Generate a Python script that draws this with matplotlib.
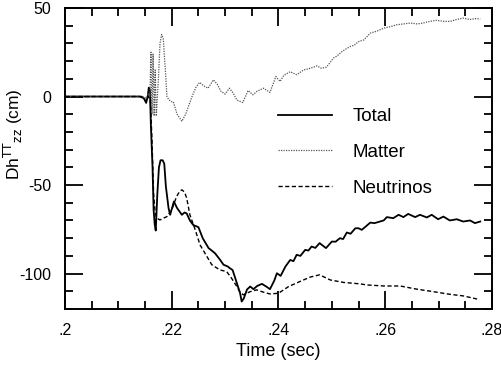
import numpy as np
import matplotlib
matplotlib.use('Agg')
import matplotlib.pyplot as plt
from matplotlib.ticker import MultipleLocator, FixedFormatter, FixedLocator

plt.rcParams['font.family'] = ['Liberation Sans', 'DejaVu Sans']

# data (time in sec, Dh in cm)
t_total = [.200, .2140, .2148, .2152, .2155, .2157, .2159, .2161, .2164, .2166, .2168, .2170,
           .2173, .2176, .2179, .2183, .2186, .2189, .2194, .2197, .2204, .2210, .2219, .2224,
           .2228, .2234, .2240, .2250, .2258, .2269, .2275, .2281, .2290, .2297, .2305, .2309,
           .2314, .2319, .2328, .2331, .2335, .2341, .2347, .2353, .2360, .2369, .2378, .2384,
           .2392, .2397, .2404, .2413, .2422, .2428, .2434, .2441, .2450, .2456, .2462, .2469,
           .2477, .2489, .2500, .2507, .2515, .2521, .2528, .2535, .2544, .2550, .2556, .2565,
           .2572, .2580, .2590, .2597, .2603, .2615, .2625, .2634, .2643, .2656, .2665, .2678,
           .2687, .2699, .2709, .2721, .2734, .2746, .2759, .2768, .2778]
total = [0, 0, -1, -3.6, 0, 5, 4, -17, -40, -64, -72, -75.7,
         -55, -40, -36, -36, -38, -50.8, -63, -66.8, -59.3, -63, -66.8, -65.5,
         -66, -70, -72.5, -73.8, -80, -85.6, -87, -88.5, -92, -95, -96, -97,
         -98, -102.6, -111, -115.8, -114, -109, -107.3, -108.8, -107, -105.8, -107.5, -108.8,
         -104, -99.8, -101.3, -96, -92.3, -93, -89.4, -90, -86.6, -87, -84.7, -85.5,
         -82.8, -85.6, -81.9, -82, -80, -80.5, -76.8, -77.5, -74.4, -74.4, -75.3, -73,
         -71.2, -71.5, -70.6, -70, -68.1, -68.7, -66.8, -68.1, -66.3, -68.1, -66.8, -68.3,
         -66.8, -69.3, -67.8, -70, -69.3, -70.6, -70, -71.5, -70.6]

t_matter = [.200, .2145, .2152, .2157, .2159, .2161, .2163, .2165, .2167, .2169, .2171, .2175,
            .2178, .2181, .2184, .2188, .2191, .2195, .2198, .2200, .2203, .2210, .2219, .2226,
            .2232, .2238, .2245, .2252, .2260, .2268, .2273, .2278, .2285, .2292, .2300, .2308,
            .2315, .2322, .2333, .2343, .2352, .2360, .2372, .2384, .2395, .2403, .2410, .2422,
            .2434, .2447, .2460, .2472, .2480, .2490, .2503, .2510, .2519, .2527, .2534, .2542,
            .2550, .2560, .2572, .2585, .2597, .2610, .2621, .2634, .2647, .2660, .2671, .2684,
            .2696, .2708, .2721, .2734, .2746, .2758, .2770, .2778]
matter = [0, 0, -1, 2, 0, 25, -10, 24, -11, 15, -11, 10,
          30, 35, 33, 15, 0, -2, -2.5, -3, -3, -10, -14, -10,
          -5, 0, 5, 8, 6, 4.7, 7, 9.4, 7, 3, 1.4, 4.7,
          2, -2, -3.4, 3.4, 1, 3, 4.7, 2.3, 11.3, 8.5, 12, 14,
          12.3, 15, 16, 17.3, 16, 16.6, 21.7, 23, 25.4, 27, 28.2, 29,
          31, 32, 35.8, 37, 38.6, 39.5, 40.5, 41, 41.5, 41, 41.5, 42.5,
          43, 42.5, 42.4, 43.5, 44.3, 43.5, 44, 43.9]

t_nu = [.200, .2145, .2152, .2156, .2160, .2163, .2166, .2169, .2172, .2178, .2186, .2191,
        .2200, .2209, .2215, .2219, .2224, .2228, .2234, .2244, .2253, .2266, .2275, .2290,
        .2303, .2312, .2322, .2327, .2334, .2347, .2359, .2372, .2384, .2400, .2419, .2440,
        .2459, .2477, .2497, .2522, .2553, .2565, .2597, .2628, .2659, .2690, .2721, .2746, .2774]
neutrinos = [0, 0, -3, 0, -2, -25, -55, -66, -68.7, -69.7, -68.5, -67.8,
             -64, -56.5, -53.5, -52.7, -54, -57.4, -66.8, -75.3, -83.8, -90.4, -95, -97.9,
             -98.9, -102.6, -107.3, -110, -112, -110.2, -109.2, -110.5, -111.5, -111.1, -107.3, -104.5,
             -102, -100.7, -103.6, -105, -105.8, -106.4, -107, -107, -108.8, -110.2, -111.7, -112.6, -114.5]

xticks = [.2, .22, .24, .26, .28]
xlabels = ['.2', '.22', '.24', '.26', '.28']
yticks = [-100, -50, 0, 50]
ylabels = ['-100', '-50', '0', '50']

fig = plt.figure(figsize=(5.02, 3.69), dpi=100)
ax = fig.add_axes([65/502, 60/369, 427/502, 301/369])

ax.plot(t_total, total, color='black', lw=1.3, label='Total')
ax.plot(t_matter, matter, color='#555555', lw=0.9, linestyle=(0, (1, 1)), label='Matter')
ax.plot(t_nu, neutrinos, color='black', lw=1.0, linestyle=(0, (3, 1.8)), label='Neutrinos')

ax.set_xlim(.2, .28)
ax.set_ylim(-120, 50)
ax.xaxis.set_major_locator(FixedLocator(xticks))
ax.xaxis.set_major_formatter(FixedFormatter(xlabels))
ax.xaxis.set_minor_locator(MultipleLocator(.005))
ax.yaxis.set_major_locator(FixedLocator(yticks))
ax.yaxis.set_major_formatter(FixedFormatter(ylabels))
ax.yaxis.set_minor_locator(MultipleLocator(10))

ax.tick_params(which='both', direction='in', top=True, right=True, width=1.3, labelsize=11.5)
ax.tick_params(which='major', length=13, pad=10)
ax.tick_params(which='minor', length=6)
for s in ax.spines.values():
    s.set_linewidth(1.4)

ax.set_xlabel('Time (sec)', fontsize=13, labelpad=4)
ax.set_ylabel(r'Dh$^{\mathsf{TT}}$$_{\mathsf{zz}}$ (cm)', fontsize=12.5)
ax.yaxis.set_label_coords(-0.093, 0.58)

ax.legend(loc='upper left', bbox_to_anchor=(278/502, 1 - 108/369), bbox_transform=fig.transFigure,
          frameon=False, fontsize=13.5, handlelength=2.88, handletextpad=1.12,
          labelspacing=1.0, borderpad=0, borderaxespad=0)

fig.savefig('out.png', dpi=100)
